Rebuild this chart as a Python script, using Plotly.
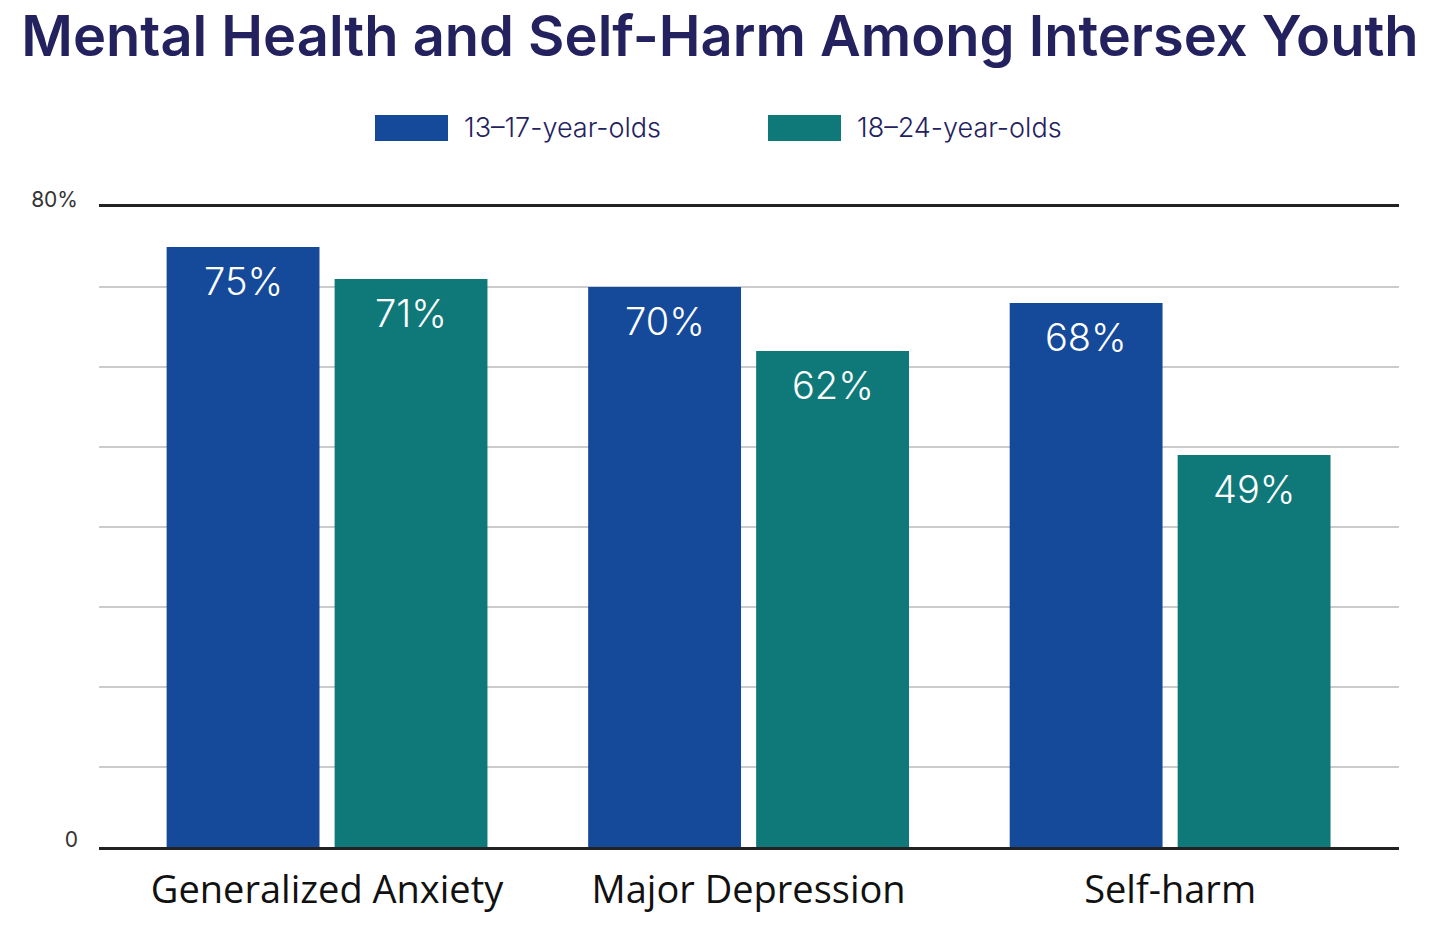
import plotly.graph_objects as go

categories = ["Generalized Anxiety", "Major Depression", "Self-harm"]
series_names = ["13\u201317-year-olds", "18\u201324-year-olds"]
teen_values = [75, 70, 68]
young_adult_values = [71, 62, 49]
y_tick_vals = [0, 80]
y_tick_text = ["0", "80%"]

colors = ["#154A9A", "#0F797A"]
navy = "#24215F"

FIG_W, FIG_H = 1440, 951
PL, PR, PT, PB = 99, 1399, 207, 847  # plot area in page pixels
PW, PH = PR - PL, PB - PT

fig = go.Figure()
for name, vals, col in zip(series_names, [teen_values, young_adult_values], colors):
    fig.add_trace(go.Bar(
        x=categories, y=vals, name=name,
        marker=dict(color=col, line=dict(width=0)),
        showlegend=False,
    ))

# value labels inside bars near the top
shift = 84
for vals, sgn in zip([teen_values, young_adult_values], [-1, 1]):
    for c, v in zip(categories, vals):
        fig.add_annotation(
            x=c, y=v, xref="x", yref="y", text=f"{v}%", showarrow=False,
            xshift=sgn * shift, yshift=-34, yanchor="middle",
            font=dict(family="Inter", size=38, color="white", weight=300),
        )

# legend drawn as swatches + labels
legend_items = [(375, 448, 462), (768, 841, 855)]
for (x0, x1, tx), name, col in zip(legend_items, series_names, colors):
    fig.add_shape(type="rect", xref="paper", yref="paper",
                  x0=(x0 - PL) / PW, x1=(x1 - PL) / PW,
                  y0=1 + (PT - 141) / PH, y1=1 + (PT - 115) / PH,
                  fillcolor=col, line=dict(width=0))
    fig.add_annotation(xref="paper", yref="paper", x=(tx - PL) / PW,
                       y=1 + (PT - 128) / PH, xanchor="left", yanchor="middle",
                       text=name, showarrow=False,
                       font=dict(family="Inter", size=27, color=navy, weight=300))

fig.update_layout(
    width=FIG_W, height=FIG_H,
    paper_bgcolor="white", plot_bgcolor="white",
    margin=dict(l=PL, r=FIG_W - PR, t=PT, b=FIG_H - PB),
    barmode="group", bargap=0.203, bargroupgap=0.09,
    title=dict(text="Mental Health and Self-Harm Among Intersex Youth",
               x=0.5, xanchor="center", xref="container",
               y=1 - 36 / FIG_H, yanchor="middle", yref="container",
               font=dict(family="Inter", size=56, color=navy, weight=600)),
    xaxis=dict(range=[-0.541, 2.543], showgrid=False,
               showline=True, mirror=True, linecolor="#222222", linewidth=3,
               zeroline=False, ticks="", ticklabelstandoff=7,
               tickfont=dict(family="Open Sans", size=38, color="#111111")),
    yaxis=dict(range=[0, 80], tickvals=y_tick_vals, ticktext=y_tick_text,
               showgrid=False,
               zeroline=False, showline=False, ticks="",
               ticklabelstandoff=20, ticklabelshift=-7,
               tickfont=dict(family="Inter", size=21, color="#333333"),
               minor=dict(dtick=10, tick0=0, showgrid=True,
                          gridcolor="#CCCCCC", gridwidth=1.5)),
)

fig.write_html("out.html",
               config={"displayModeBar": False},
               post_script="document.body.style.margin='0';document.body.style.overflow='hidden';")
